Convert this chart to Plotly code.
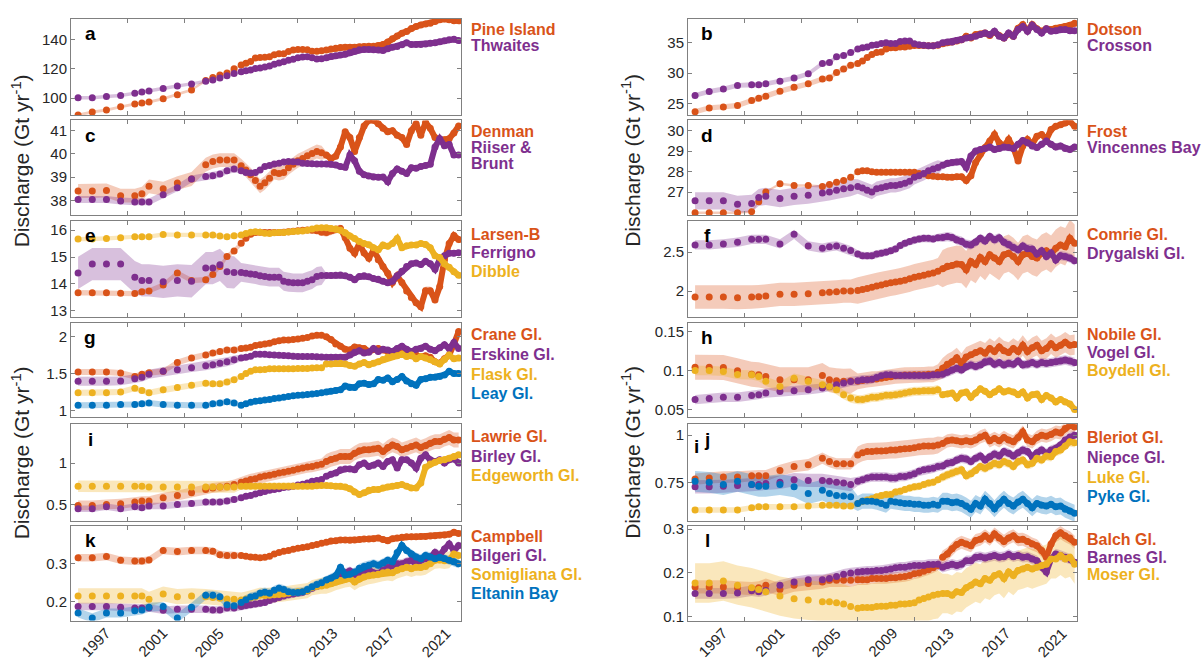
import numpy as np
import plotly.graph_objects as go

# ---- sampling epochs (decimal years) ----
T_EARLY = [1997.5, 1998.5, 1999.5, 2000.5, 2001.5, 2002.0, 2002.5, 2003.5,
           2004.5, 2005.5, 2006.5, 2007.0, 2007.5, 2008.0, 2008.5]
T_MID = [2009.0 + k / 3 for k in range(18)]      # 4-monthly, 2009-2014
T_DENSE = [2015.0 + k / 3 for k in range(29)]    # dense record from 2015
T = np.array(T_EARLY + T_MID + T_DENSE)
N_DOT = len(T_EARLY) + len(T_MID)
N_EARLY, N_MID, N_DENSE = len(T_EARLY), len(T_MID), len(T_DENSE)

YEAR_TICKS = [1997, 2001, 2005, 2009, 2013, 2017, 2021]

# ---- discharge series (Gt/yr) ----
pine_island = ([88.5, 90.5, 91.8, 94.0, 96.0, 96.6, 97.3, 99.5, 102.3, 105.6, 112.0, 114.0, 115.7, 117.2, 120.0]
               + [122.7, 123.8, 125.0, 127.4, 127.8, 128.0, 128.3, 129.6, 130.3, 130.3, 131.8, 132.8, 133.3, 133.3, 133.0, 132.0, 132.0, 132.3]
               + [132.8, 133.5, 134.0, 134.6, 134.8, 134.8, 134.8, 135.1, 135.3, 135.4, 135.5, 136.0, 136.6, 138.3, 140.5,
                  142.5, 144.3, 145.6, 147.5, 149.0, 150.0, 150.6, 151.2, 152.4, 153.6, 154.1, 153.5, 152.8, 152.8])
thwaites = ([100.2, 100.3, 101.0, 101.7, 103.3, 104.2, 104.8, 106.6, 108.2, 109.6, 111.5, 112.3, 113.8, 115.3, 116.8]
            + [118.0, 118.7, 119.2, 120.2, 120.6, 121.3, 122.0, 123.1, 124.0, 124.9, 125.8, 126.6, 127.6, 128.1, 128.2, 127.6, 126.8, 126.9]
            + [127.6, 128.5, 129.0, 129.4, 130.0, 131.0, 132.1, 133.0, 133.3, 133.3, 133.0, 132.8, 132.6, 133.8, 134.8,
               135.2, 136.5, 137.8, 136.6, 136.6, 136.6, 137.0, 137.5, 137.8, 138.5, 139.2, 139.8, 140.2, 139.3])

dotson = ([23.65, 24.3, 24.45, 24.7, 25.5, 25.9, 26.2, 27.05, 27.7, 28.25, 29.05, 29.2, 30.1, 30.7, 31.3]
          + [31.6, 32.0, 32.6, 33.1, 33.4, 33.5, 34.0, 34.2, 34.2, 34.3, 34.3, 34.45, 34.55, 34.55, 34.55, 34.5, 34.5, 34.6]
          + [34.85, 35.0, 35.15, 35.3, 35.5, 36.1, 35.8, 36.35, 36.45, 36.6, 36.2, 36.8, 36.2, 35.8, 36.5,
             36.1, 37.4, 38.0, 37.0, 38.0, 37.3, 36.9, 37.3, 37.2, 37.4, 37.5, 37.7, 37.9, 38.2])
crosson = ([26.35, 27.0, 27.4, 28.0, 28.1, 28.1, 28.25, 28.7, 29.2, 29.9, 31.6, 31.75, 32.7, 32.9, 33.4]
           + [34.0, 34.2, 34.3, 34.6, 34.7, 34.9, 35.0, 34.9, 34.9, 35.2, 35.3, 35.3, 34.85, 34.7, 34.6, 34.5, 34.5, 34.7]
           + [35.0, 35.15, 35.15, 35.4, 35.5, 35.8, 35.9, 36.1, 36.35, 36.6, 36.35, 36.9, 36.1, 35.8, 36.6,
              36.1, 37.2, 37.7, 36.9, 37.9, 37.2, 36.6, 37.3, 36.9, 37.0, 37.2, 37.2, 37.0, 37.0])

denman = ([38.4, 38.4, 38.42, 38.2, 38.2, 38.28, 38.6, 38.5, 38.74, 38.92, 39.53, 39.67, 39.73, 39.73, 39.73]
          + [39.49, 39.3, 39.1, 38.85, 38.6, 38.75, 38.95, 39.2, 39.15, 39.2, 39.4, 39.55, 39.7, 39.8, 39.92, 40.01, 40.1, 40.05]
          + [39.95, 39.8, 39.9, 40.3, 40.95, 40.7, 40.1, 40.7, 41.2, 41.45, 41.45, 41.3, 41.1, 40.95, 41.0,
             40.8, 40.7, 40.4, 41.0, 41.3, 40.8, 41.35, 41.1, 40.7, 40.6, 40.6, 40.65, 40.9, 41.2])
riiser_brunt = ([38.03, 38.03, 38.03, 37.97, 37.93, 37.93, 37.93, 38.24, 38.54, 38.92, 39.02, 39.06, 39.13, 39.27, 39.35]
                + [39.27, 39.2, 39.18, 39.2, 39.3, 39.45, 39.5, 39.56, 39.6, 39.65, 39.67, 39.66, 39.65, 39.6, 39.58, 39.57, 39.56, 39.56]
                + [39.56, 39.55, 39.52, 39.45, 39.42, 39.95, 39.7, 39.25, 39.1, 39.05, 39.0, 38.99, 39.0, 38.8, 39.15,
                   39.35, 39.25, 39.15, 39.4, 39.38, 39.45, 39.5, 39.55, 40.3, 40.65, 40.35, 40.4, 39.95, 39.95])

frost = ([25.99, 25.99, 25.99, 25.99, 26.04, 26.52, 27.0, 27.4, 27.32, 27.32, 27.27, 27.37, 27.48, 27.56, 27.72]
         + [27.99, 28.04, 28.04, 27.99, 27.96, 27.96, 27.96, 27.96, 27.96, 27.96, 27.96, 27.96, 27.96, 27.91, 27.88, 27.8, 27.77, 27.75]
         + [27.75, 27.72, 27.72, 27.75, 27.75, 27.56, 27.8, 28.44, 28.84, 29.17, 29.49, 29.81, 29.41, 29.25, 29.57,
            29.17, 28.52, 29.25, 29.57, 29.33, 29.73, 29.81, 29.57, 30.05, 30.21, 30.29, 30.37, 30.45, 30.21])
vincennes = ([26.57, 26.57, 26.57, 26.4, 26.44, 26.73, 26.79, 26.68, 26.79, 26.84, 26.95, 27.0, 27.08, 27.16, 27.21]
             + [27.27, 27.19, 27.08, 27.0, 27.16, 27.21, 27.27, 27.32, 27.32, 27.37, 27.43, 27.53, 27.72, 27.8, 27.91, 28.04, 28.12, 28.2]
             + [28.31, 28.4, 28.44, 28.47, 28.49, 28.2, 28.76, 29.0, 29.08, 29.13, 29.2, 29.08, 29.13, 29.2, 29.17,
                29.13, 29.33, 29.52, 29.41, 29.25, 29.17, 29.33, 29.49, 29.33, 29.2, 29.25, 29.13, 29.08, 29.2])

larsen_b = ([13.67, 13.67, 13.67, 13.65, 13.64, 13.71, 13.74, 13.96, 14.41, 14.13, 14.16, 14.35, 14.65, 15.02, 15.23]
            + [15.51, 15.7, 15.85, 15.91, 15.92, 15.91, 15.91, 15.91, 15.91, 15.92, 15.94, 15.96, 15.98, 16.0, 16.01, 16.0, 15.98, 15.92]
            + [15.91, 15.98, 16.03, 16.06, 15.72, 15.33, 15.14, 15.5, 15.15, 14.96, 15.25, 14.9, 14.65, 14.4, 14.05,
               14.3, 14.05, 13.74, 13.5, 13.3, 13.15, 13.75, 13.75, 13.4, 13.9, 14.9, 15.5, 15.8, 15.65])
ferrigno = ([14.41, 14.74, 14.74, 14.74, 14.25, 14.13, 14.13, 14.08, 14.13, 14.1, 14.59, 14.59, 14.71, 14.45, 14.43]
            + [14.43, 14.4, 14.37, 14.35, 14.3, 14.28, 14.25, 14.25, 14.25, 14.1, 14.06, 14.04, 14.04, 14.04, 14.1, 14.16, 14.28, 14.31]
            + [14.31, 14.31, 14.32, 14.33, 14.3, 14.25, 14.16, 14.28, 14.3, 14.27, 14.2, 14.17, 14.1, 14.04, 14.1,
               14.3, 14.47, 14.65, 14.75, 14.78, 14.72, 14.84, 14.75, 14.55, 14.9, 15.05, 15.14, 15.14, 15.16])
dibble = ([15.67, 15.67, 15.69, 15.72, 15.76, 15.76, 15.76, 15.84, 15.82, 15.82, 15.82, 15.82, 15.78, 15.76, 15.79]
          + [15.82, 15.88, 15.92, 15.94, 15.92, 15.89, 15.88, 15.9, 15.91, 15.91, 15.93, 15.95, 15.96, 15.97, 16.0, 16.04, 16.08, 16.09]
          + [16.09, 16.06, 16.04, 16.0, 15.9, 15.78, 15.69, 15.58, 15.5, 15.46, 15.35, 15.27, 15.45, 15.4, 15.5,
             15.69, 15.35, 15.42, 15.45, 15.45, 15.5, 15.47, 15.35, 15.05, 14.98, 14.75, 14.62, 14.45, 14.32])

comrie = ([1.924, 1.924, 1.924, 1.915, 1.924, 1.928, 1.936, 1.958, 1.958, 1.966, 1.979, 1.985, 1.99, 2.0, 2.0]
          + [2.008, 2.02, 2.033, 2.05, 2.064, 2.078, 2.093, 2.106, 2.115, 2.127, 2.14, 2.157, 2.178, 2.19, 2.203, 2.22, 2.233, 2.254]
          + [2.288, 2.318, 2.33, 2.347, 2.34, 2.275, 2.38, 2.34, 2.432, 2.38, 2.466, 2.424, 2.38, 2.466, 2.487,
             2.445, 2.38, 2.466, 2.487, 2.445, 2.424, 2.487, 2.517, 2.475, 2.55, 2.593, 2.57, 2.678, 2.614])
drygalski = ([2.593, 2.593, 2.606, 2.627, 2.665, 2.665, 2.665, 2.606, 2.729, 2.58, 2.55, 2.57, 2.58, 2.55, 2.52]
             + [2.475, 2.455, 2.453, 2.455, 2.475, 2.487, 2.5, 2.517, 2.542, 2.585, 2.614, 2.636, 2.657, 2.67, 2.678, 2.678, 2.67, 2.686]
             + [2.69, 2.7, 2.69, 2.657, 2.64, 2.602, 2.593, 2.627, 2.678, 2.644, 2.7, 2.66, 2.686, 2.627, 2.6,
                2.56, 2.53, 2.58, 2.545, 2.54, 2.475, 2.517, 2.445, 2.49, 2.4, 2.455, 2.445, 2.424, 2.39])

crane = ([1.52, 1.52, 1.52, 1.507, 1.46, 1.49, 1.51, 1.53, 1.65, 1.71, 1.753, 1.78, 1.8, 1.82, 1.82]
         + [1.84, 1.845, 1.855, 1.88, 1.89, 1.9, 1.91, 1.93, 1.945, 1.955, 1.955, 1.96, 1.97, 1.98, 1.99, 2.01, 2.02, 2.02]
         + [2.0, 1.96, 1.9, 1.87, 1.83, 1.82, 1.86, 1.85, 1.84, 1.8, 1.83, 1.84, 1.82, 1.8, 1.78,
            1.79, 1.77, 1.75, 1.74, 1.75, 1.73, 1.74, 1.72, 1.66, 1.64, 1.7, 1.75, 1.9, 2.07])
erskine = ([1.395, 1.395, 1.395, 1.4, 1.43, 1.45, 1.49, 1.53, 1.55, 1.58, 1.605, 1.62, 1.64, 1.66, 1.686]
           + [1.71, 1.72, 1.735, 1.76, 1.76, 1.76, 1.755, 1.75, 1.748, 1.745, 1.74, 1.735, 1.73, 1.73, 1.73, 1.73, 1.728, 1.725]
           + [1.72, 1.72, 1.72, 1.72, 1.72, 1.75, 1.79, 1.81, 1.78, 1.79, 1.84, 1.8, 1.83, 1.82, 1.8,
              1.84, 1.87, 1.83, 1.8, 1.83, 1.84, 1.87, 1.83, 1.81, 1.85, 1.89, 1.84, 1.92, 1.84])
flask = ([1.24, 1.24, 1.24, 1.25, 1.3, 1.27, 1.24, 1.28, 1.31, 1.34, 1.37, 1.36, 1.36, 1.385, 1.417]
         + [1.46, 1.5, 1.53, 1.55, 1.55, 1.555, 1.565, 1.565, 1.565, 1.565, 1.565, 1.565, 1.567, 1.567, 1.57, 1.574, 1.578, 1.58]
         + [1.63, 1.63, 1.635, 1.64, 1.63, 1.61, 1.6, 1.63, 1.65, 1.62, 1.64, 1.66, 1.69, 1.72, 1.73,
            1.74, 1.76, 1.73, 1.75, 1.7, 1.73, 1.71, 1.69, 1.66, 1.63, 1.69, 1.75, 1.7, 1.71])
leay = ([1.07, 1.07, 1.07, 1.08, 1.08, 1.09, 1.1, 1.08, 1.07, 1.07, 1.07, 1.09, 1.1, 1.117, 1.1]
        + [1.07, 1.09, 1.11, 1.125, 1.13, 1.14, 1.148, 1.16, 1.17, 1.18, 1.19, 1.2, 1.206, 1.21, 1.215, 1.224, 1.23, 1.24]
        + [1.25, 1.26, 1.27, 1.28, 1.33, 1.31, 1.31, 1.36, 1.37, 1.35, 1.36, 1.42, 1.41, 1.44, 1.39,
           1.42, 1.46, 1.4, 1.36, 1.34, 1.42, 1.43, 1.45, 1.45, 1.46, 1.48, 1.53, 1.5, 1.5])

nobile = ([0.104, 0.104, 0.1036, 0.0994, 0.095, 0.0943, 0.0922, 0.088, 0.088, 0.088, 0.0935, 0.088, 0.0867, 0.086, 0.0865]
          + [0.086, 0.087, 0.088, 0.0888, 0.089, 0.09, 0.091, 0.092, 0.093, 0.0935, 0.094, 0.094, 0.0943, 0.0943, 0.0943, 0.095, 0.095, 0.0977]
          + [0.1027, 0.108, 0.111, 0.116, 0.109, 0.117, 0.12, 0.123, 0.125, 0.122, 0.128, 0.124, 0.13, 0.125, 0.123,
             0.128, 0.124, 0.132, 0.124, 0.129, 0.132, 0.125, 0.128, 0.134, 0.129, 0.132, 0.136, 0.132, 0.133])
vogel = ([0.0627, 0.064, 0.0656, 0.0656, 0.068, 0.069, 0.0711, 0.073, 0.074, 0.0753, 0.0774, 0.0795, 0.0816, 0.0838, 0.0859]
         + [0.0867, 0.088, 0.088, 0.0888, 0.091, 0.093, 0.0943, 0.0943, 0.0935, 0.0935, 0.0935, 0.0935, 0.0935, 0.0935, 0.0935, 0.0935, 0.0943, 0.0943]
         + [0.095, 0.0977, 0.1006, 0.1027, 0.1006, 0.1049, 0.107, 0.1049, 0.107, 0.111, 0.112, 0.1078, 0.11, 0.107, 0.109,
            0.1078, 0.112, 0.107, 0.1078, 0.11, 0.1078, 0.11, 0.109, 0.11, 0.111, 0.112, 0.1133, 0.112, 0.11])
boydell = ([0.0999, 0.0999, 0.0987, 0.0946, 0.0943, 0.0922, 0.086, 0.0795, 0.09, 0.086, 0.0816, 0.0795, 0.0753, 0.069, 0.0648]
           + [0.0627, 0.0627, 0.064, 0.0656, 0.0656, 0.0669, 0.0681, 0.0681, 0.069, 0.0698, 0.071, 0.0724, 0.0732, 0.0732, 0.074, 0.074, 0.074, 0.0753]
           + [0.069, 0.0698, 0.071, 0.0648, 0.071, 0.0724, 0.0656, 0.071, 0.0765, 0.0732, 0.069, 0.0724, 0.0765, 0.0724, 0.074,
              0.0724, 0.069, 0.0724, 0.0648, 0.069, 0.0698, 0.0627, 0.068, 0.0648, 0.0597, 0.0627, 0.0597, 0.0572, 0.05])

lawrie = ([0.488, 0.488, 0.5, 0.508, 0.528, 0.54, 0.54, 0.58, 0.608, 0.64, 0.68, 0.7, 0.71, 0.72, 0.74]
          + [0.768, 0.784, 0.8, 0.812, 0.832, 0.845, 0.852, 0.865, 0.88, 0.888, 0.9, 0.912, 0.928, 0.94, 0.952, 0.96, 0.975, 0.985]
          + [1.02, 1.045, 1.06, 1.08, 1.08, 1.08, 1.12, 1.15, 1.16, 1.16, 1.17, 1.18, 1.14, 1.19, 1.22,
             1.2, 1.16, 1.18, 1.2, 1.22, 1.19, 1.21, 1.24, 1.26, 1.26, 1.29, 1.31, 1.28, 1.28])
birley = ([0.448, 0.448, 0.472, 0.448, 0.472, 0.46, 0.48, 0.48, 0.5, 0.512, 0.528, 0.528, 0.528, 0.54, 0.56]
          + [0.58, 0.6, 0.608, 0.625, 0.64, 0.655, 0.672, 0.68, 0.69, 0.705, 0.712, 0.72, 0.735, 0.745, 0.76, 0.78, 0.79, 0.8]
          + [0.84, 0.865, 0.88, 0.92, 0.928, 0.93, 0.92, 0.98, 1.0, 0.96, 0.975, 1.0, 0.96, 1.02, 1.04,
             0.94, 1.04, 1.04, 1.0, 0.94, 1.06, 1.1, 1.04, 1.02, 1.04, 1.0, 1.04, 1.05, 1.0])
edgeworth = ([0.72, 0.72, 0.72, 0.72, 0.72, 0.72, 0.712, 0.712, 0.712, 0.712, 0.712, 0.712, 0.712, 0.712, 0.712]
             + [0.72, 0.72, 0.72, 0.72, 0.72, 0.72, 0.72, 0.72, 0.72, 0.72, 0.72, 0.72, 0.72, 0.72, 0.72, 0.72, 0.725, 0.728]
             + [0.728, 0.725, 0.72, 0.72, 0.71, 0.69, 0.65, 0.62, 0.64, 0.67, 0.68, 0.68, 0.7, 0.71, 0.72,
                0.73, 0.74, 0.72, 0.7, 0.7, 0.76, 0.95, 0.99, 1.01, 1.03, 1.04, 1.06, 1.08, 1.1])

bleriot = ([0.767, 0.773, 0.778, 0.778, 0.785, 0.785, 0.785, 0.813, 0.834, 0.843, 0.878, 0.86, 0.848, 0.848, 0.848]
           + [0.895, 0.907, 0.913, 0.913, 0.916, 0.916, 0.918, 0.921, 0.921, 0.925, 0.928, 0.93, 0.934, 0.939, 0.942, 0.942, 0.942, 0.948]
           + [0.956, 0.97, 0.974, 0.97, 0.965, 0.97, 0.965, 0.974, 0.991, 1.0, 0.97, 0.983, 0.97, 0.988, 0.974,
              0.965, 0.988, 1.017, 0.974, 0.965, 0.988, 1.0, 0.995, 1.003, 1.017, 1.012, 1.035, 1.052, 1.044])
niepce = ([0.726, 0.726, 0.729, 0.733, 0.738, 0.738, 0.743, 0.75, 0.764, 0.76, 0.76, 0.755, 0.75, 0.746, 0.738]
          + [0.755, 0.764, 0.773, 0.778, 0.778, 0.778, 0.778, 0.773, 0.773, 0.781, 0.781, 0.787, 0.795, 0.808, 0.816, 0.82, 0.825, 0.834]
          + [0.837, 0.851, 0.855, 0.869, 0.878, 0.874, 0.86, 0.878, 0.89, 0.869, 0.886, 0.9, 0.89, 0.913, 0.904,
             0.89, 0.907, 0.921, 0.913, 0.886, 0.907, 0.921, 0.904, 0.921, 0.93, 0.948, 0.974, 0.991, 1.0])
luke = ([0.603, 0.603, 0.603, 0.603, 0.615, 0.62, 0.62, 0.62, 0.62, 0.624, 0.628, 0.628, 0.628, 0.624, 0.624]
        + [0.638, 0.65, 0.656, 0.663, 0.673, 0.68, 0.685, 0.685, 0.698, 0.703, 0.712, 0.72, 0.726, 0.729, 0.738, 0.746, 0.75, 0.764]
        + [0.778, 0.79, 0.799, 0.808, 0.816, 0.785, 0.796, 0.813, 0.834, 0.825, 0.837, 0.851, 0.843, 0.86, 0.851,
           0.834, 0.86, 0.869, 0.843, 0.851, 0.878, 0.869, 0.89, 0.886, 0.913, 0.921, 0.942, 0.965, 0.96])
pyke = ([0.755, 0.75, 0.738, 0.755, 0.738, 0.729, 0.729, 0.738, 0.726, 0.69, 0.708, 0.69, 0.68, 0.677, 0.673]
        + [0.638, 0.65, 0.65, 0.65, 0.645, 0.638, 0.628, 0.65, 0.645, 0.642, 0.638, 0.638, 0.633, 0.633, 0.628, 0.628, 0.633, 0.628]
        + [0.65, 0.65, 0.642, 0.645, 0.638, 0.624, 0.607, 0.638, 0.624, 0.66, 0.638, 0.61, 0.638, 0.66, 0.638,
           0.624, 0.645, 0.66, 0.638, 0.615, 0.638, 0.628, 0.624, 0.633, 0.62, 0.624, 0.607, 0.598, 0.586])

campbell = ([0.3157, 0.3157, 0.319, 0.309, 0.307, 0.307, 0.31, 0.335, 0.332, 0.335, 0.335, 0.333, 0.324, 0.322, 0.322]
            + [0.322, 0.32, 0.318, 0.317, 0.316, 0.317, 0.32, 0.326, 0.33, 0.333, 0.335, 0.338, 0.341, 0.343, 0.345, 0.348, 0.351, 0.354]
            + [0.357, 0.36, 0.361, 0.363, 0.363, 0.362, 0.363, 0.364, 0.365, 0.365, 0.366, 0.368, 0.364, 0.361, 0.366,
               0.368, 0.37, 0.371, 0.371, 0.371, 0.372, 0.372, 0.373, 0.374, 0.375, 0.376, 0.378, 0.383, 0.38])
bilgeri = ([0.187, 0.187, 0.187, 0.185, 0.183, 0.183, 0.183, 0.177, 0.18, 0.18, 0.18, 0.178, 0.178, 0.183, 0.183]
           + [0.187, 0.19, 0.192, 0.194, 0.196, 0.198, 0.203, 0.207, 0.211, 0.215, 0.218, 0.22, 0.223, 0.225, 0.228, 0.235, 0.24, 0.245]
           + [0.252, 0.26, 0.265, 0.272, 0.276, 0.281, 0.272, 0.27, 0.278, 0.284, 0.276, 0.274, 0.283, 0.29, 0.295,
              0.3, 0.3, 0.305, 0.309, 0.3, 0.309, 0.313, 0.317, 0.33, 0.322, 0.339, 0.352, 0.335, 0.348])
somigliana = ([0.215, 0.215, 0.215, 0.215, 0.215, 0.215, 0.206, 0.22, 0.213, 0.215, 0.213, 0.211, 0.209, 0.207, 0.206]
              + [0.204, 0.207, 0.21, 0.213, 0.217, 0.216, 0.217, 0.218, 0.219, 0.22, 0.222, 0.224, 0.226, 0.227, 0.229, 0.237, 0.24, 0.241]
              + [0.243, 0.247, 0.252, 0.256, 0.259, 0.261, 0.252, 0.26, 0.265, 0.268, 0.27, 0.272, 0.276, 0.278, 0.276,
                 0.283, 0.287, 0.291, 0.287, 0.291, 0.29, 0.293, 0.3, 0.309, 0.31, 0.308, 0.31, 0.326, 0.322])
eltanin = ([0.17, 0.157, 0.17, 0.17, 0.176, 0.178, 0.185, 0.187, 0.157, 0.185, 0.217, 0.217, 0.213, 0.192, 0.189]
           + [0.198, 0.205, 0.212, 0.215, 0.222, 0.225, 0.222, 0.23, 0.235, 0.232, 0.226, 0.224, 0.224, 0.226, 0.232, 0.239, 0.245, 0.25]
           + [0.257, 0.262, 0.268, 0.291, 0.27, 0.272, 0.278, 0.288, 0.293, 0.296, 0.3, 0.296, 0.302, 0.309, 0.305,
              0.33, 0.348, 0.335, 0.326, 0.318, 0.313, 0.322, 0.318, 0.313, 0.317, 0.314, 0.309, 0.305, 0.3])

balch = ([0.168, 0.168, 0.168, 0.166, 0.164, 0.166, 0.172, 0.162, 0.172, 0.1755, 0.179, 0.183, 0.183, 0.183, 0.183]
         + [0.1845, 0.1845, 0.1845, 0.187, 0.187, 0.187, 0.187, 0.189, 0.189, 0.1905, 0.192, 0.194, 0.198, 0.2, 0.204, 0.207, 0.212, 0.217]
         + [0.236, 0.243, 0.255, 0.265, 0.27, 0.266, 0.262, 0.274, 0.277, 0.285, 0.277, 0.289, 0.28, 0.272, 0.28,
            0.285, 0.276, 0.277, 0.272, 0.266, 0.262, 0.251, 0.236, 0.266, 0.285, 0.292, 0.285, 0.28, 0.27])
barnes = ([0.153, 0.153, 0.153, 0.154, 0.159, 0.157, 0.16, 0.172, 0.179, 0.1845, 0.1845, 0.187, 0.192, 0.197, 0.2]
          + [0.202, 0.203, 0.204, 0.204, 0.2057, 0.2057, 0.207, 0.209, 0.2117, 0.213, 0.213, 0.215, 0.217, 0.217, 0.217, 0.219, 0.219, 0.22]
          + [0.213, 0.217, 0.22, 0.217, 0.22, 0.228, 0.228, 0.236, 0.237, 0.234, 0.237, 0.24, 0.236, 0.237, 0.242,
             0.237, 0.24, 0.236, 0.237, 0.232, 0.228, 0.213, 0.202, 0.232, 0.243, 0.24, 0.236, 0.232, 0.2245])
moser = ([0.177, 0.177, 0.1815, 0.172, 0.166, 0.162, 0.157, 0.147, 0.141, 0.138, 0.134, 0.134, 0.132, 0.129, 0.123]
         + [0.119, 0.121, 0.121, 0.121, 0.123, 0.124, 0.124, 0.126, 0.126, 0.129, 0.129, 0.13, 0.132, 0.138, 0.1415, 0.145, 0.149, 0.151]
         + [0.153, 0.153, 0.149, 0.157, 0.155, 0.166, 0.172, 0.179, 0.175, 0.187, 0.183, 0.194, 0.198, 0.187, 0.202,
            0.194, 0.2057, 0.209, 0.213, 0.209, 0.213, 0.217, 0.22, 0.232, 0.232, 0.24, 0.232, 0.236, 0.22])

# ---- colours ----
ORANGE = "#D95319"
PURPLE = "#7E2F8E"
YELLOW = "#EDB120"
BLUE = "#0072BD"
FILL = {ORANGE: "rgba(217,83,25,0.30)", PURPLE: "rgba(126,47,142,0.30)",
        YELLOW: "rgba(237,177,32,0.30)", BLUE: "rgba(0,114,189,0.30)"}
FRAME = "#808080"
TEXT = "#262626"
FONT = "Liberation Sans, Arial, sans-serif"

# uncertainty half-widths per record era: (early, 2009-2014, dense)
PANELS = [
    dict(letter="a", yrange=[88.1, 154.2], yticks=[100, 120, 140], ytext=["100", "120", "140"],
         series=[(pine_island, ORANGE, (1.0, 1.0, 1.0)), (thwaites, PURPLE, (1.2, 1.0, 0.8))],
         labels=[("Pine Island", ORANGE), ("Thwaites", PURPLE)], lab=(11, 15.7)),
    dict(letter="b", yrange=[23.05, 38.95], yticks=[25, 30, 35], ytext=["25", "30", "35"],
         series=[(dotson, ORANGE, (0.45, 0.4, 0.55)), (crosson, PURPLE, (0.4, 0.35, 0.45))],
         labels=[("Dotson", ORANGE), ("Crosson", PURPLE)], lab=(11, 15.7)),
    dict(letter="c", yrange=[37.36, 41.44], yticks=[38, 39, 40, 41], ytext=["38", "39", "40", "41"],
         series=[(denman, ORANGE, (0.3, 0.3, 0.15)), (riiser_brunt, PURPLE, (0.15, 0.12, 0.08))],
         labels=[("Denman", ORANGE), ("Riiser &", PURPLE), ("Brunt", PURPLE)], lab=(11, 16.3)),
    dict(letter="d", yrange=[25.87, 30.5], yticks=[27, 28, 29, 30], ytext=["27", "28", "29", "30"],
         series=[(frost, ORANGE, (0.06, 0.06, 0.1)), (vincennes, PURPLE, (0.42, 0.35, 0.18))],
         labels=[("Frost", ORANGE), ("Vincennes Bay", PURPLE)], lab=(11.7, 16)),
    dict(letter="e", yrange=[12.78, 16.34], yticks=[13, 14, 15, 16], ytext=["13", "14", "15", "16"],
         series=[(larsen_b, ORANGE, (0.1, 0.12, 0.15)), (ferrigno, PURPLE, (0.6, 0.35, 0.1)),
                 (dibble, YELLOW, (0.08, 0.08, 0.08))],
         labels=[("Larsen-B", ORANGE), ("Ferrigno", PURPLE), ("Dibble", YELLOW)], lab=(13.7, 18.5)),
    dict(letter="f", yrange=[1.67, 2.9], yticks=[2, 2.5], ytext=["2", "2.5"],
         series=[(comrie, ORANGE, (0.15, 0.17, 0.24)), (drygalski, PURPLE, (0.06, 0.05, 0.06))],
         labels=[("Comrie Gl.", ORANGE), ("Drygalski Gl.", PURPLE)], lab=(13.7, 19)),
    dict(letter="g", yrange=[0.906, 2.19], yticks=[1, 1.5, 2], ytext=["1", "1.5", "2"],
         series=[(crane, ORANGE, (0.04, 0.04, 0.03)), (erskine, PURPLE, (0.06, 0.04, 0.04)),
                 (flask, YELLOW, (0.04, 0.03, 0.03)), (leay, BLUE, (0.04, 0.03, 0.04))],
         labels=[("Crane Gl.", ORANGE), ("Erskine Gl.", PURPLE), ("Flask Gl.", YELLOW), ("Leay Gl.", BLUE)],
         lab=(12.3, 20)),
    dict(letter="h", yrange=[0.04, 0.161], yticks=[0.05, 0.1, 0.15], ytext=["0.05", "0.1", "0.15"],
         series=[(nobile, ORANGE, (0.016, 0.01, 0.013)), (vogel, PURPLE, (0.006, 0.006, 0.006)),
                 (boydell, YELLOW, (0.006, 0.006, 0.004))],
         labels=[("Nobile Gl.", ORANGE), ("Vogel Gl.", PURPLE), ("Boydell Gl.", YELLOW)], lab=(12, 18.5)),
    dict(letter="i", yrange=[0.30, 1.47], yticks=[0.5, 1], ytext=["0.5", "1"],
         series=[(lawrie, ORANGE, (0.06, 0.07, 0.09)), (birley, PURPLE, (0.04, 0.03, 0.03)),
                 (edgeworth, YELLOW, (0.07, 0.04, 0.03))],
         labels=[("Lawrie Gl.", ORANGE), ("Birley Gl.", PURPLE), ("Edgeworth Gl.", YELLOW)], lab=(12.3, 20)),
    dict(letter="j", yrange=[0.545, 1.058], yticks=[0.75, 1], ytext=["0.75", "1"],
         series=[(bleriot, ORANGE, (0.03, 0.045, 0.035)), (niepce, PURPLE, (0.035, 0.025, 0.025)),
                 (luke, YELLOW, (0.015, 0.02, 0.025)), (pyke, BLUE, (0.055, 0.04, 0.045))],
         labels=[("Bleriot Gl.", ORANGE), ("Niepce Gl.", PURPLE), ("Luke Gl.", YELLOW), ("Pyke Gl.", BLUE)],
         lab=(13.7, 20)),
    dict(letter="k", yrange=[0.15, 0.40], yticks=[0.2, 0.3], ytext=["0.2", "0.3"],
         series=[(campbell, ORANGE, (0.01, 0.006, 0.004)), (bilgeri, PURPLE, (0.01, 0.01, 0.012)),
                 (somigliana, YELLOW, (0.02, 0.02, 0.022)), (eltanin, BLUE, (0.012, 0.012, 0.012))],
         labels=[("Campbell", ORANGE), ("Bilgeri Gl.", PURPLE), ("Somigliana Gl.", YELLOW), ("Eltanin Bay", BLUE)],
         lab=(10.3, 19.3)),
    dict(letter="l", yrange=[0.091, 0.3075], yticks=[0.1, 0.2, 0.3], ytext=["0.1", "0.2", "0.3"],
         series=[(balch, ORANGE, (0.015, 0.012, 0.015)), (barnes, PURPLE, (0.012, 0.012, 0.012)),
                 (moser, YELLOW, (0.045, 0.055, 0.045))],
         labels=[("Balch Gl.", ORANGE), ("Barnes Gl.", PURPLE), ("Moser Gl.", YELLOW)], lab=(13.7, 18)),
]

# ---- page geometry (pixels) ----
W, H = 1204, 666
COL_X = [(71, 461), (688, 1077)]
ROW_Y = [(14, 112), (117, 213), (219, 316), (322, 418), (425, 523), (528, 624)]

fig = go.Figure()
annotations = []
layout = {}

for idx, p in enumerate(PANELS):
    n = idx + 1
    row, col = divmod(idx, 2)
    x0, x1 = COL_X[col]
    y0, y1 = ROW_Y[row]
    xref = "x" if n == 1 else f"x{n}"
    yref = "y" if n == 1 else f"y{n}"
    axis_common = dict(showline=True, linecolor=FRAME, linewidth=1, mirror="allticks",
                       ticks="inside", ticklen=4, tickcolor=FRAME, tickwidth=1,
                       showgrid=False, zeroline=False)
    layout["xaxis" if n == 1 else f"xaxis{n}"] = dict(
        domain=[x0 / W, x1 / W], range=[1997.0, 2024.5], anchor=yref,
        tickmode="array", tickvals=YEAR_TICKS, showticklabels=False, **axis_common)
    layout["yaxis" if n == 1 else f"yaxis{n}"] = dict(
        domain=[1 - y1 / H, 1 - y0 / H], range=p["yrange"], anchor=xref,
        tickmode="array", tickvals=p["yticks"], ticktext=p["ytext"],
        tickfont=dict(family=FONT, size=15, color=TEXT), **axis_common)

    # uncertainty envelopes underneath all markers
    for vals, color, errs in p["series"]:
        v = np.array(vals)
        e = np.concatenate([np.full(N_EARLY, errs[0]), np.full(N_MID, errs[1]), np.full(N_DENSE, errs[2])])
        fig.add_trace(go.Scatter(
            x=np.concatenate([T, T[::-1]]), y=np.concatenate([v + e, (v - e)[::-1]]),
            fill="toself", fillcolor=FILL[color], line=dict(width=0), mode="lines",
            hoverinfo="skip", xaxis=xref, yaxis=yref, showlegend=False))

    for vals, color, errs in p["series"]:
        v = np.array(vals)
        fig.add_trace(go.Scatter(
            x=T[:N_DOT], y=v[:N_DOT], mode="markers",
            marker=dict(size=7, color=color, line=dict(width=0)),
            xaxis=xref, yaxis=yref, showlegend=False))
        fig.add_trace(go.Scatter(
            x=T[N_DOT:], y=v[N_DOT:], mode="lines+markers",
            line=dict(color=color, width=6), marker=dict(size=7, color=color, line=dict(width=0)),
            xaxis=xref, yaxis=yref, showlegend=False))

    # panel letter
    annotations.append(dict(text=f"<b>{p['letter']}</b>", xref="paper", yref="paper",
                            x=(x0 + 19) / W, y=1 - (y0 + 15) / H, xanchor="center", yanchor="middle",
                            showarrow=False, font=dict(family=FONT, size=19, color="black")))
    # glacier names at the right edge
    first, gap = p["lab"]
    for k, (name, color) in enumerate(p["labels"]):
        annotations.append(dict(text=f"<b>{name}</b>", xref="paper", yref="paper",
                                x=(x1 + 8) / W, y=1 - (y0 + first + k * gap) / H,
                                xanchor="left", yanchor="middle", showarrow=False,
                                font=dict(family=FONT, size=16, color=color)))

# second letter mark in panel j
annotations.append(dict(text="<b>i</b>", xref="paper", yref="paper",
                        x=(COL_X[1][0] + 8.5) / W, y=1 - (ROW_Y[4][0] + 23) / H,
                        xanchor="center", yanchor="middle", showarrow=False,
                        font=dict(family=FONT, size=19, color="black")))

# rotated year labels under the bottom row
for n in (11, 12):
    for yr in YEAR_TICKS:
        annotations.append(dict(text=str(yr), xref=f"x{n}", yref="paper", x=yr, xshift=24.5,
                                y=1 - 646 / H, xanchor="center", yanchor="middle", textangle=-45,
                                showarrow=False, font=dict(family=FONT, size=15, color=TEXT)))

# shared y-axis titles
for xc in (20.5, 631):
    for yc in (158, 454):
        annotations.append(dict(text="Discharge (Gt yr<sup>-1</sup>)", xref="paper", yref="paper",
                                x=xc / W, y=1 - yc / H, xanchor="center", yanchor="middle",
                                textangle=-90, showarrow=False,
                                font=dict(family=FONT, size=21, color=TEXT)))

fig.update_layout(width=W, height=H, margin=dict(l=0, r=0, t=0, b=0),
                  paper_bgcolor="white", plot_bgcolor="white", showlegend=False,
                  annotations=annotations, **layout)

fig.write_html("out.html")
